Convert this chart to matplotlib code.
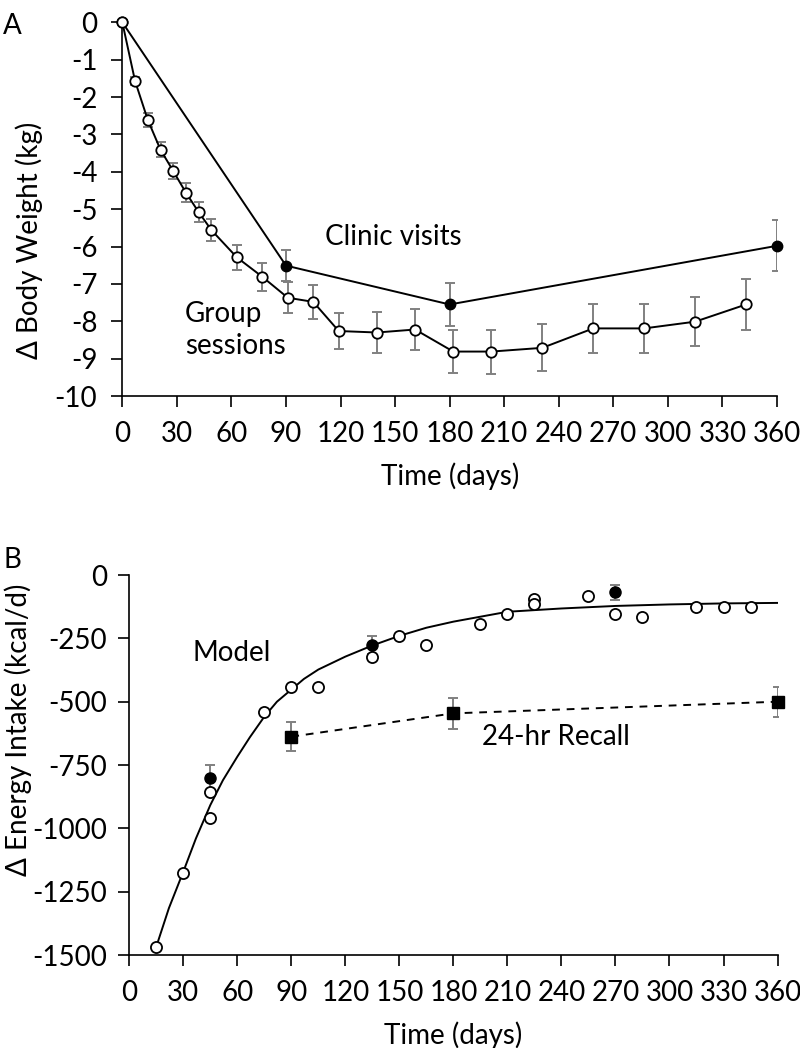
import matplotlib
import matplotlib.pyplot as plt
plt.switch_backend('agg')
import numpy as np

plt.rcParams['font.family'] = ['Lato', 'DejaVu Sans']
plt.rcParams['font.size'] = 20
plt.rcParams['axes.unicode_minus'] = False

# ---- panel A: body weight change ----
grp_days = [0, 7, 14, 21, 28, 35, 42, 49, 63, 77, 91, 105, 119, 140, 161, 182, 203, 231, 259, 287, 315, 343]
grp_wt = [0, -1.57, -2.61, -3.41, -3.98, -4.56, -5.08, -5.56, -6.29, -6.81, -7.37, -7.48, -8.26, -8.30,
          -8.22, -8.81, -8.81, -8.71, -8.19, -8.19, -8.01, -7.55]
grp_err = [0, 0.1, 0.18, 0.2, 0.22, 0.25, 0.27, 0.29, 0.34, 0.37, 0.42, 0.45, 0.48, 0.56, 0.54,
           0.58, 0.59, 0.63, 0.65, 0.65, 0.66, 0.68]

clinic_days = [0, 90, 180, 360]
clinic_wt = [0, -6.51, -7.55, -5.98]
clinic_err = [0, 0.42, 0.58, 0.68]

# ---- panel B: energy intake change ----
model_days = [15, 22, 30, 37, 45, 52, 60, 67, 75, 82, 90, 97, 105, 120, 135, 150, 165, 180,
              210, 240, 270, 300, 330, 360]
model_ei = [-1467, -1315, -1171, -1040, -908, -810, -717, -640, -559, -500, -452, -410, -373,
            -322, -278, -240, -208, -184, -145, -132, -122, -116, -112, -110]

obs_days = [15, 30, 45, 45, 75, 90, 105, 135, 150, 165, 195, 210, 225, 225, 255, 270, 285, 315, 330, 345]
obs_ei = [-1467, -1176, -958, -858, -539, -440, -440, -325, -242, -276, -195, -154, -95, -114,
          -82, -154, -167, -128, -128, -128]

clinic_ei_days = [45, 135, 270]
clinic_ei = [-803, -276, -68]
clinic_ei_err = [55, 35, 30]

recall_days = [90, 180, 360]
recall_ei = [-638, -546, -500]
recall_err = [58, 62, 60]

ecol = '#808080'

fig = plt.figure(figsize=(8, 10.48), dpi=100)
axA = fig.add_axes([0.1529, 0.6221, 0.8183, 0.3566])
axB = fig.add_axes([0.1616, 0.0887, 0.8103, 0.3626])

for ax in (axA, axB):
	ax.spines['top'].set_visible(False)
	ax.spines['right'].set_visible(False)
	for s in ('left', 'bottom'):
		ax.spines[s].set_linewidth(1.2)
	ax.tick_params(direction='out', length=8, width=1.2, pad=10, labelsize=20)
	ax.set_xlim(0, 360)
	ax.set_xticks(np.arange(0, 361, 30))
	ax.set_xlabel('Time (days)', labelpad=11)

# panel A
axA.errorbar(grp_days, grp_wt, yerr=grp_err, fmt='none', ecolor=ecol, elinewidth=1.4,
             capsize=3.5, capthick=1.4, zorder=2)
axA.errorbar(clinic_days, clinic_wt, yerr=clinic_err, fmt='none', ecolor=ecol, elinewidth=1.4,
             capsize=3.5, capthick=1.4, zorder=2)
axA.plot(clinic_days, clinic_wt, '-o', color='black', lw=1.4, ms=7.5, mfc='black', mec='black',
         zorder=3, clip_on=False)
axA.plot(grp_days, grp_wt, '-o', color='black', lw=1.4, ms=7.5, mfc='white', mec='black',
         mew=1.3, zorder=4, clip_on=False)
axA.set_ylim(-10, 0)
axA.set_yticks(np.arange(-10, 1, 1))
axA.set_ylabel('\u0394 Body Weight (kg)')
axA.yaxis.set_label_coords(-0.121, 0.417)
axA.text(149, -5.75, 'Clinic visits', ha='center', va='center')
axA.text(34.5, -8.23, 'Group\nsessions', ha='left', va='center', linespacing=1.25)

# panel B
axB.plot(model_days, model_ei, '-', color='black', lw=1.4, zorder=3)
axB.errorbar(clinic_ei_days, clinic_ei, yerr=clinic_ei_err, fmt='none', ecolor=ecol,
             elinewidth=1.4, capsize=3.5, capthick=1.4, zorder=2)
axB.errorbar(recall_days, recall_ei, yerr=recall_err, fmt='none', ecolor=ecol,
             elinewidth=1.4, capsize=3.5, capthick=1.4, zorder=2)
axB.plot(recall_days, recall_ei, linestyle=(0, (4, 3.5)), color='black', lw=1.4, marker='s',
         ms=9, mfc='black', mec='black', zorder=4, clip_on=False)
axB.plot(clinic_ei_days, clinic_ei, 'o', ms=8, mfc='black', mec='black', zorder=4)
axB.plot(obs_days, obs_ei, 'o', ms=8, mfc='white', mec='black', mew=1.3, zorder=5, clip_on=False)
axB.set_ylim(-1500, 0)
axB.set_yticks(np.arange(-1500, 1, 250))
axB.tick_params(axis='y', pad=8)
axB.set_ylabel('\u0394 Energy Intake (kcal/d)')
axB.yaxis.set_label_coords(-0.150, 0.592)
axB.text(57, -306, 'Model', ha='center', va='center')
axB.text(237, -641, '24-hr Recall', ha='center', va='center')

fig.text(0.004, 0.988, 'A', ha='left', va='top')
fig.text(0.004, 0.478, 'B', ha='left', va='top')

plt.savefig('out.png', dpi=100)
plt.close()
